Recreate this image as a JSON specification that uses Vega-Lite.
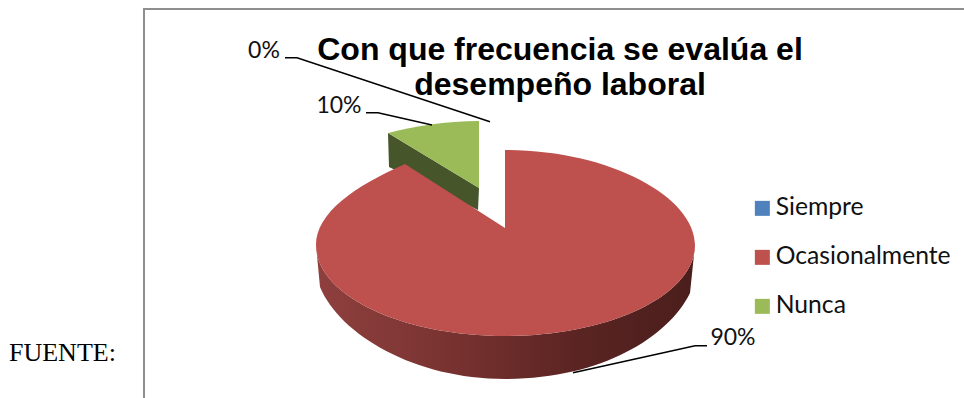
{
  "$schema": "https://vega.github.io/schema/vega-lite/v6.json",
  "width": 964,
  "height": 398,
  "padding": 0,
  "autosize": {"type": "none"},
  "background": "white",
  "config": {"view": {"stroke": null}},
  "title": {
    "text": ["Con que frecuencia se evalúa el", "desempeño laboral"],
    "font": "Liberation Sans",
    "fontSize": 32,
    "fontWeight": "bold",
    "color": "#000000",
    "anchor": "middle",
    "lineHeight": 35,
    "dx": 78,
    "dy": 106
  },
  "datasets": {
    "respuestas": [
      {"Respuesta": "Siempre", "pct": 0},
      {"Respuesta": "Ocasionalmente", "pct": 90},
      {"Respuesta": "Nunca", "pct": 10}
    ]
  },
  "layer": [
    {
      "data": {"values": [{"parte": "marco"}]},
      "mark": {"type": "point", "size": 4, "filled": false, "opacity": 1, "stroke": "#8e8e8e", "strokeWidth": 2,
        "shape": "M-338,210 L-338,-190 L490,-190"}
    },
    {
      "data": {"values": [{"texto": "FUENTE:"}]},
      "mark": {"type": "text", "font": "Liberation Serif", "fontSize": 26, "color": "#000000", "align": "left", "baseline": "alphabetic", "dx": -473, "dy": 162},
      "encoding": {"text": {"field": "texto"}}
    },
    {
      "data": {"name": "respuestas"},
      "transform": [{"filter": "datum.Respuesta === 'Nunca'"}],
      "mark": {"type": "point", "size": 4, "filled": true, "opacity": 1, "strokeWidth": 0, "fill": "#46552a",
        "shape": "M-94,-66 L-3,-11 L-4,11 L-93,-32 Z"}
    },
    {
      "data": {"name": "respuestas"},
      "transform": [{"filter": "datum.Respuesta === 'Ocasionalmente'"}],
      "mark": {"type": "point", "size": 4, "filled": true, "opacity": 1, "strokeWidth": 0,
        "fill": {
          "gradient": "linear", "x1": 0, "x2": 1, "y1": 0, "y2": 0,
          "stops": [
            {"offset": 0, "color": "#8f403e"},
            {"offset": 0.3, "color": "#7c3533"},
            {"offset": 0.55, "color": "#672a28"},
            {"offset": 0.7, "color": "#5a2422"},
            {"offset": 1, "color": "#4a1e1c"}
          ]
        },
        "shape": "M-166,46 C-166,96 -81,137 23,137 C128,137 213,96 213,46 L208,94 C186,139 118,180 23,180 C-67,180 -142,136 -162,88 Z"}
    },
    {
      "data": {"name": "respuestas"},
      "mark": {"type": "point", "size": 4, "filled": true, "opacity": 1, "strokeWidth": 0},
      "encoding": {
        "shape": {
          "field": "Respuesta",
          "type": "nominal",
          "legend": null,
          "scale": {
            "domain": ["Siempre", "Ocasionalmente", "Nunca"],
            "range": [
              "M0,0 Z",
              "M23,29 L23,-49 C128,-49 213,-2 213,46 C213,96 128,137 23,137 C-81,137 -166,96 -166,46 C-166,14 -127,-13 -77,-35 Z",
              "M-94,-66 C-67,-73 -37,-78 -3,-78 L-3,-11 Z"
            ]
          }
        },
        "color": {
          "field": "Respuesta",
          "type": "nominal",
          "scale": {
            "domain": ["Siempre", "Ocasionalmente", "Nunca"],
            "range": ["#4f81bd", "#be504e", "#9bbb59"]
          },
          "legend": {
            "title": null,
            "orient": "none",
            "legendX": 750,
            "legendY": 196,
            "symbolType": "square",
            "symbolSize": 225,
            "symbolStrokeWidth": 0,
            "symbolOpacity": 1,
            "labelFont": "Lato",
            "labelFontSize": 24.7,
            "labelColor": "#111111",
            "labelOffset": 1,
            "labelLimit": 220,
            "rowPadding": 23,
            "padding": 0
          }
        }
      }
    },
    {
      "data": {"values": [{"linea": "0%"}, {"linea": "10%"}, {"linea": "90%"}]},
      "mark": {"type": "point", "size": 4, "filled": false, "opacity": 1, "stroke": "#000000", "strokeWidth": 1.5},
      "encoding": {
        "shape": {
          "field": "linea",
          "type": "nominal",
          "legend": null,
          "scale": {
            "domain": ["0%", "10%", "90%"],
            "range": [
              "M-197,-141.3 L-185,-141.3 L8,-77.3",
              "M-116,-86.3 L-104,-86.3 L-50,-74",
              "M91,173.7 L213,146.7 L225,146.7"
            ]
          }
        }
      }
    },
    {
      "data": {"name": "respuestas"},
      "transform": [{"calculate": "datum.pct + '%'", "as": "etiqueta"}],
      "mark": {"type": "text", "font": "Lato", "fontSize": 23, "color": "#111111", "align": "center", "baseline": "middle"},
      "encoding": {
        "x": {"field": "pct", "type": "quantitative", "axis": null,
          "scale": {"domain": [0, 10, 90], "range": [264, 339, 733], "zero": false, "nice": false}},
        "y": {"field": "pct", "type": "quantitative", "axis": null,
          "scale": {"domain": [0, 10, 90], "range": [51, 106, 338], "zero": false, "nice": false}},
        "text": {"field": "etiqueta"}
      }
    }
  ],
  "resolve": {"scale": {"shape": "independent"}}
}
